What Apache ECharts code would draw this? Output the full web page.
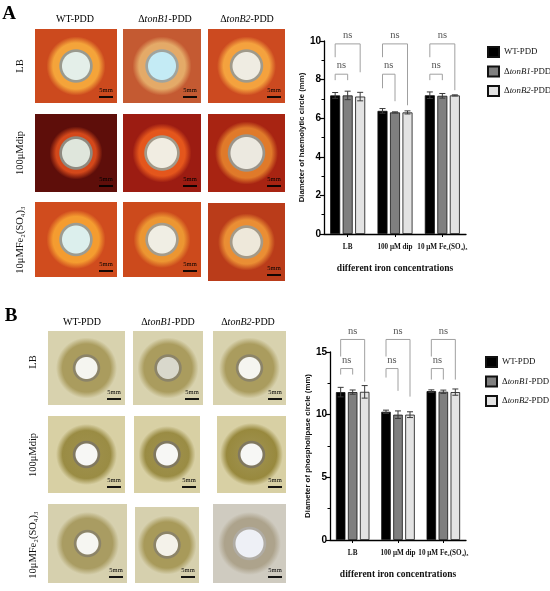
<!DOCTYPE html>
<html><head><meta charset="utf-8">
<script src="https://cdn.jsdelivr.net/npm/echarts@6/dist/echarts.min.js"></script>
<style>html,body{margin:0;padding:0;background:#fff}#c{width:550px;height:591px}</style>
</head><body><div id="c"></div>
<script>
// ---------- data ----------
const categories = ['LB', '100 μM dip', '10 μM Fe₂(SO₄)₃'];
const seriesNames = ['WT-PDD', 'ΔtonB1-PDD', 'ΔtonB2-PDD'];
// A: haemolytic circle diameter (mm)
const haemoWT = [7.18, 6.38, 7.19];
const haemoB1 = [7.18, 6.30, 7.16];
const haemoB2 = [7.12, 6.30, 7.18];
const haemoWTErr = [0.15, 0.12, 0.17];
const haemoB1Err = [0.22, 0.03, 0.12];
const haemoB2Err = [0.22, 0.08, 0.03];
// B: phospholipase circle diameter (mm)
const phosWT = [11.80, 10.23, 11.88];
const phosB1 = [11.80, 10.00, 11.83];
const phosB2 = [11.82, 10.00, 11.80];
const phosWTErr = [0.38, 0.13, 0.10];
const phosB1Err = [0.17, 0.30, 0.13];
const phosB2Err = [0.50, 0.23, 0.25];
const sigLabel = 'ns';
// bracket geometry (axis units): [cat, outer, inner, outerLeftEnd, outerRightEnd, innerLeftEnd, innerRightEnd]
const bracketsA = [[0, 9.85, 8.28, 9.16, 8.38, 7.97, 7.97], [1, 9.85, 8.28, 9.16, 6.67, 7.55, 6.88], [2, 9.85, 8.28, 9.16, 7.45, 7.97, 7.97]];
const bracketsB = [[0, 16.0, 13.68, 14.64, 12.64, 13.2, 13.2], [1, 16.0, 13.68, 14.64, 11.44, 12.96, 11.9], [2, 16.0, 13.68, 14.64, 12.8, 12.8, 12.8]];

// ---------- helpers ----------
const SERIF = "'Liberation Serif','Times New Roman',serif";
const SANS = "'Liberation Sans',Arial,sans-serif";
const barColors = ['#000000', '#7f7f7f', '#e3e3e3'];

function errData(vals) {
  const out = [];
  vals.forEach((arr, k) => arr[0].forEach((v, i) => out.push([i, v, arr[1][i], k])));
  return out;
}

function makeErrRender(bw, gap) {
  return function (params, api) {
    const cat = api.value(0), v = api.value(1), e = api.value(2), k = api.value(3);
    const x = api.coord([cat, v])[0] + (k - 1) * (bw + gap);
    const yt = api.coord([cat, v + e])[1];
    const yb = api.coord([cat, v - e])[1];
    const st = { stroke: '#3a3a3a', lineWidth: 1 };
    return { type: 'group', children: [
      { type: 'line', shape: { x1: x, y1: yt, x2: x, y2: yb }, style: st },
      { type: 'line', shape: { x1: x - 3, y1: yt, x2: x + 3, y2: yt }, style: st },
      { type: 'line', shape: { x1: x - 3, y1: yb, x2: x + 3, y2: yb }, style: st }
    ]};
  };
}

function makeBracketRender(bw, gap) {
  return function (params, api) {
    const cat = api.value(0);
    const cx = api.coord([cat, 0])[0];
    const x0 = cx - (bw + gap), x1 = cx, x2 = cx + (bw + gap);
    const Y = v => api.coord([cat, v])[1];
    const yo = Y(api.value(1)), yi = Y(api.value(2));
    const st = { stroke: '#a0a0a0', lineWidth: 1, fill: null };
    const ts = { fill: '#555', font: '10.5px ' + SERIF, textAlign: 'center', textVerticalAlign: 'bottom' };
    return { type: 'group', children: [
      { type: 'polyline', shape: { points: [[x0, Y(api.value(3))], [x0, yo], [x2, yo], [x2, Y(api.value(4))]] }, style: st },
      { type: 'polyline', shape: { points: [[x0, Y(api.value(5))], [x0, yi], [x1, yi], [x1, Y(api.value(6))]] }, style: st },
      { type: 'text', style: Object.assign({ text: sigLabel, x: (x0 + x2) / 2, y: yo - 3 }, ts) },
      { type: 'text', style: Object.assign({ text: sigLabel, x: (x0 + x1) / 2, y: yi - 3 }, ts) }
    ]};
  };
}

const legendRich = {
  n: { fontFamily: SERIF, fontSize: 8.8, color: '#111', lineHeight: 11 },
  i: { fontFamily: SERIF, fontSize: 8.8, fontStyle: 'italic', color: '#111', lineHeight: 11 }
};
function legendFmt(name) {
  if (name.indexOf('Δ') === 0) return '{n|Δ}{i|' + name.slice(1, 6) + '}{n|' + name.slice(6) + '}';
  return '{n|' + name + '}';
}

// ---------- photo panels (decorative) ----------
function photo(p) {
  const m = Math.min(p.w, p.h);
  const R = p.rh + 7;
  const s = v => Math.min(1, v / R);
  const stops = [
    { offset: 0, color: p.disc },
    { offset: s(p.rd - 1.5), color: p.disc },
    { offset: s(p.rd - 0.5), color: p.ring },
    { offset: s(p.rd + 1.2), color: p.ring },
    { offset: s(p.rd + 2.2), color: p.halo2 || p.halo },
    { offset: s(p.rh - 4), color: p.halo },
    { offset: s(p.rh + 2.5), color: p.bg },
    { offset: 1, color: p.bg }
  ];
  return [
    { type: 'rect', shape: { x: p.x, y: p.y, width: p.w, height: p.h },
      style: { fill: { type: 'radial', x: 0.5, y: 0.5, r: R / m, colorStops: stops } } },
    { type: 'text', style: { text: '5mm', x: p.x + p.w - 11, y: p.y + p.h - 9, textAlign: 'center', textVerticalAlign: 'bottom', font: '6.5px ' + SERIF, fill: '#000' } },
    { type: 'line', shape: { x1: p.x + p.w - 18, y1: p.y + p.h - 6, x2: p.x + p.w - 4, y2: p.y + p.h - 6 }, style: { stroke: '#000', lineWidth: 1.8 } }
  ];
}

const photosA = [
  { x: 35, y: 29, w: 82, h: 74, bg: '#cc4a1e', halo: '#f4a43a', disc: '#e4efe9', ring: '#9a9a8e', rd: 15, rh: 27 },
  { x: 123, y: 29, w: 78, h: 74, bg: '#c45a32', halo: '#e4aa68', disc: '#c4ebf5', ring: '#a0a49e', rd: 15, rh: 27 },
  { x: 208, y: 29, w: 77, h: 74, bg: '#cc4a20', halo: '#f4a23e', disc: '#efece2', ring: '#a09a8a', rd: 15, rh: 27 },
  { x: 35, y: 114, w: 82, h: 78, bg: '#5e0e0a', halo: '#d4481a', disc: '#dfe6dc', ring: '#8e8a80', rd: 15, rh: 24 },
  { x: 123, y: 114, w: 78, h: 78, bg: '#9c1c12', halo: '#e4561c', disc: '#f1ede2', ring: '#a29a8a', rd: 16, rh: 27 },
  { x: 208, y: 114, w: 77, h: 78, bg: '#a82412', halo: '#e07a2a', disc: '#ece9e0', ring: '#9a948a', rd: 17, rh: 29 },
  { x: 35, y: 202, w: 82, h: 75, bg: '#d04c1e', halo: '#f49c30', disc: '#dcefed', ring: '#9c9c92', rd: 15, rh: 27 },
  { x: 123, y: 202, w: 78, h: 75, bg: '#cc4a1c', halo: '#ec9632', disc: '#f0eee4', ring: '#a49c8c', rd: 15, rh: 26 },
  { x: 208, y: 203, w: 77, h: 78, bg: '#ba3c1a', halo: '#ea8e34', disc: '#eee8da', ring: '#a49a88', rd: 15, rh: 26 }
];
const photosB = [
  { x: 48, y: 331, w: 77, h: 74, bg: '#d8d2ae', halo: '#aa9c5e', disc: '#f5f5f0', ring: '#8c8468', rd: 12, rh: 28 },
  { x: 133, y: 331, w: 70, h: 74, bg: '#d8d2ae', halo: '#aa9c5e', disc: '#d9d8cc', ring: '#8c8468', rd: 12, rh: 28 },
  { x: 213, y: 331, w: 73, h: 74, bg: '#d8d2ae', halo: '#aa9c5e', disc: '#f5f5f0', ring: '#8c8468', rd: 12, rh: 28 },
  { x: 48, y: 416, w: 77, h: 77, bg: '#d8d0a4', halo: '#9a8c44', halo2: '#9c8e48', disc: '#f7f7f5', ring: '#807860', rd: 12, rh: 28 },
  { x: 134, y: 416, w: 66, h: 77, bg: '#d8d0a4', halo: '#9a8c44', halo2: '#9c8e48', disc: '#f7f7f5', ring: '#807860', rd: 12, rh: 26 },
  { x: 217, y: 416, w: 69, h: 77, bg: '#d8d0a4', halo: '#98893e', halo2: '#9c8e48', disc: '#f7f7f5', ring: '#807860', rd: 12, rh: 29 },
  { x: 48, y: 504, w: 79, h: 79, bg: '#d6d0ae', halo: '#a99c62', disc: '#f6f6f2', ring: '#8c8468', rd: 12, rh: 29 },
  { x: 135, y: 507, w: 64, h: 76, bg: '#d6d0ae', halo: '#a89a5a', disc: '#f4f2ea', ring: '#8c8468', rd: 12, rh: 27 },
  { x: 213, y: 504, w: 73, h: 79, bg: '#cfcbc0', halo: '#ada38c', disc: '#eef0f6', ring: '#b0aca4', rd: 15, rh: 29 }
];

const headRich = {
  n: { fontFamily: SERIF, fontSize: 10, color: '#111' },
  i: { fontFamily: SERIF, fontSize: 10, fontStyle: 'italic', color: '#111' }
};
function header(x, y, name) {
  return { type: 'text', x: x, y: y, style: { text: legendFmt(name), rich: headRich, textAlign: 'center', textVerticalAlign: 'middle' } };
}
function rowLabel(x, y, txt) {
  return { type: 'text', x: x, y: y, rotation: Math.PI / 2, style: { text: txt, font: '10.5px ' + SERIF, fill: '#111', textAlign: 'center', textVerticalAlign: 'middle' } };
}
const rowNames = ['LB', '100μMdip', '10μMFe₂(SO₄)₃'];

let graphics = [];
photosA.concat(photosB).forEach(p => { graphics = graphics.concat(photo(p)); });
graphics.push({ type: 'text', x: 9, y: 14, style: { text: 'A', font: 'bold 19px ' + SERIF, fill: '#000', textAlign: 'center', textVerticalAlign: 'middle' } });
graphics.push({ type: 'text', x: 11, y: 316, style: { text: 'B', font: 'bold 19px ' + SERIF, fill: '#000', textAlign: 'center', textVerticalAlign: 'middle' } });
[75, 165, 247].forEach((x, i) => graphics.push(header(x, 19, seriesNames[i])));
[82, 168, 248].forEach((x, i) => graphics.push(header(x, 322, seriesNames[i])));
[66, 153, 240].forEach((y, i) => graphics.push(rowLabel(20, y, rowNames[i])));
[362, 455, 545].forEach((y, i) => graphics.push(rowLabel(33, y, rowNames[i])));

// ---------- chart ----------
const bwA = 10, gapA = 2.5, bwB = 9.5, gapB = 2.5;
function yAxisOpt(gridIndex, max, interval, name) {
  return {
    type: 'value', gridIndex: gridIndex, min: 0, max: max, interval: interval,
    name: name, nameLocation: 'middle', nameGap: 14,
    nameTextStyle: { fontFamily: SANS, fontWeight: 'bold', fontSize: 7.8, color: '#111' },
    axisLine: { show: true, lineStyle: { color: '#000', width: 1.3 } },
    axisTick: { show: true, length: 4, lineStyle: { color: '#000', width: 1.2 } },
    minorTick: { show: true, splitNumber: 2, length: 2.5, lineStyle: { color: '#000', width: 1 } },
    splitLine: { show: false },
    axisLabel: { fontFamily: SANS, fontWeight: 'bold', fontSize: 10, color: '#000', margin: 3 }
  };
}
function xAxisOpt(gridIndex) {
  return {
    type: 'category', gridIndex: gridIndex, data: categories,
    name: 'different iron concentrations', nameLocation: 'middle', nameGap: 30,
    nameTextStyle: { fontFamily: SERIF, fontWeight: 'bold', fontSize: 9.5, color: '#111' },
    axisLine: { show: true, lineStyle: { color: '#000', width: 1.3 } },
    axisTick: { show: true, alignWithLabel: true, length: 3, lineStyle: { color: '#000' } },
    axisLabel: { fontFamily: SERIF, fontWeight: 'bold', fontSize: 7.2, color: '#111', margin: 10, interval: 0, hideOverlap: false }
  };
}
function barSeries(name, data, k, ax, bw, gap) {
  return {
    type: 'bar', name: name, data: data, xAxisIndex: ax, yAxisIndex: ax,
    barWidth: bw, barGap: (gap / bw * 100) + '%',
    itemStyle: { color: barColors[k], borderColor: '#111', borderWidth: 0.8 },
    emphasis: { disabled: true }, z: 2
  };
}
function legendOpt(left, top) {
  return {
    orient: 'vertical', left: left, top: top, itemWidth: 11, itemHeight: 10, itemGap: 7.5,
    icon: 'rect', data: seriesNames, formatter: legendFmt, padding: 0,
    textStyle: { rich: legendRich }, selectedMode: false
  };
}

const option = {
  animation: false,
  graphic: graphics,
  grid: [
    { left: 324, top: 41, width: 142, height: 193 },
    { left: 330, top: 352, width: 136, height: 188 }
  ],
  xAxis: [xAxisOpt(0), xAxisOpt(1)],
  yAxis: [
    yAxisOpt(0, 10, 2, 'Diameter of haemolytic circle (mm)'),
    yAxisOpt(1, 15, 5, 'Diameter of phospholipase circle (mm)')
  ],
  legend: [legendOpt(487, 46), legendOpt(485, 356)],
  series: [
    barSeries(seriesNames[0], haemoWT, 0, 0, bwA, gapA),
    barSeries(seriesNames[1], haemoB1, 1, 0, bwA, gapA),
    barSeries(seriesNames[2], haemoB2, 2, 0, bwA, gapA),
    { type: 'custom', xAxisIndex: 0, yAxisIndex: 0, z: 5, clip: false, silent: true,
      data: errData([[haemoWT, haemoWTErr], [haemoB1, haemoB1Err], [haemoB2, haemoB2Err]]),
      renderItem: makeErrRender(bwA, gapA) },
    { type: 'custom', xAxisIndex: 0, yAxisIndex: 0, z: 5, clip: false, silent: true,
      data: bracketsA, renderItem: makeBracketRender(bwA, gapA) },
    barSeries(seriesNames[0], phosWT, 0, 1, bwB, gapB),
    barSeries(seriesNames[1], phosB1, 1, 1, bwB, gapB),
    barSeries(seriesNames[2], phosB2, 2, 1, bwB, gapB),
    { type: 'custom', xAxisIndex: 1, yAxisIndex: 1, z: 5, clip: false, silent: true,
      data: errData([[phosWT, phosWTErr], [phosB1, phosB1Err], [phosB2, phosB2Err]]),
      renderItem: makeErrRender(bwB, gapB) },
    { type: 'custom', xAxisIndex: 1, yAxisIndex: 1, z: 5, clip: false, silent: true,
      data: bracketsB, renderItem: makeBracketRender(bwB, gapB) }
  ]
};
const chart = echarts.init(document.getElementById('c'), null, { renderer: 'canvas' });
chart.setOption(option);
</script>
</body></html>
